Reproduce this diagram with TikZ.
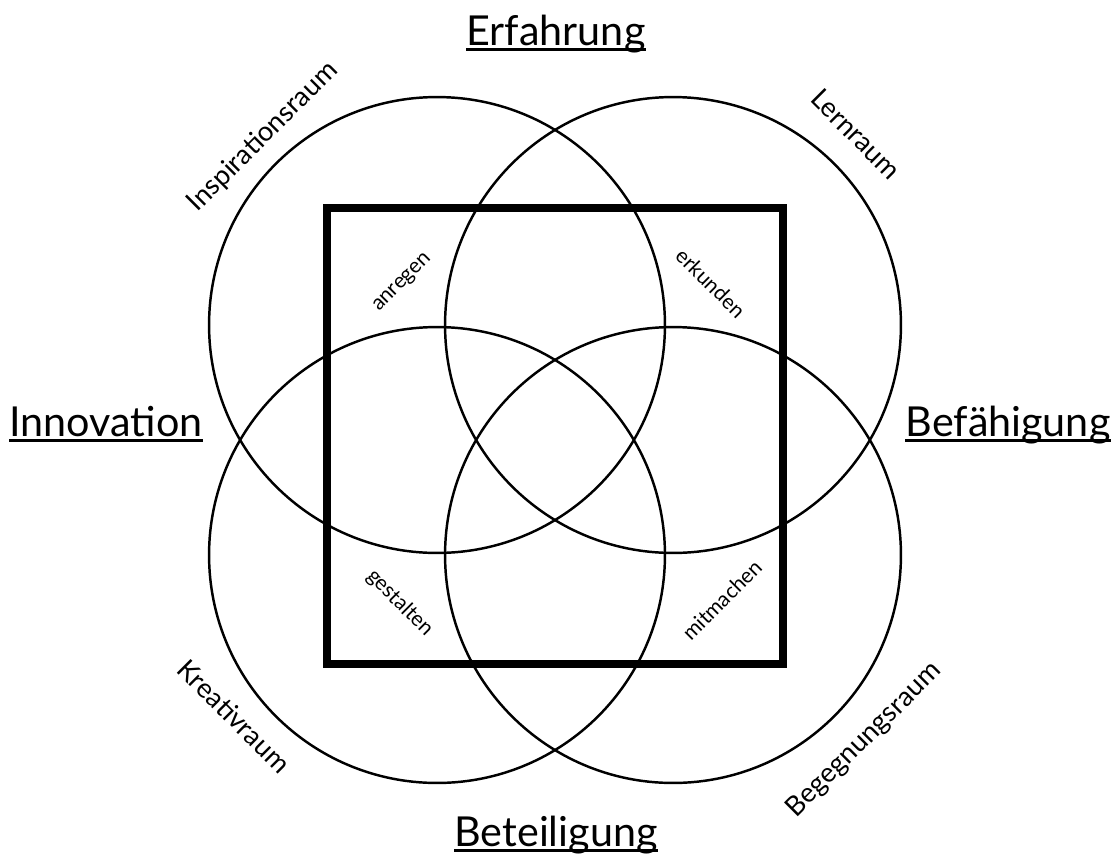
\documentclass[tikz,border=0pt]{standalone}
\usepackage{fontspec}
\setmainfont{Lato}
\begin{document}
\begin{tikzpicture}[x=0.02cm, y=-0.02cm,
    ring/.style={line width=1.4pt},
    frame/.style={line width=4.4pt},
    pole/.style={font=\fontsize{23.5}{28}\selectfont, anchor=base, inner sep=0pt},
    room/.style={font=\fontsize{15.5}{18}\selectfont, inner sep=0pt},
    verb/.style={font=\fontsize{12}{14}\selectfont, inner sep=0pt},
    uline/.style={line width=1.5pt}]
  \useasboundingbox (0,0) rectangle (1115,863);
  % circle centres, radius 228px
  \coordinate (tl) at (437,325);
  \coordinate (tr) at (673,325);
  \coordinate (bl) at (437,555);
  \coordinate (br) at (673,555);
  \foreach \c in {tl,tr,bl,br}
    \draw[ring] (\c) circle[radius=4.56cm];
  \draw[frame] (327,208) rectangle (783,664);
  % the four poles, underlined
  \node[pole] (erf) at (556,45) {Erfahrung};
  \node[pole] (inn) at (106,436) {Innovation};
  \node[pole] (bef) at (1008,436) {Befähigung};
  \node[pole] (bet) at (556,846) {Beteiligung};
  \foreach \p in {erf,inn,bef,bet}
    \draw[uline] ([yshift=-2.6pt]\p.base west) -- ([yshift=-2.6pt]\p.base east);
  % rooms outside the circles
  \node[room, rotate=45] (insp) at (263,137) {Inspirationsraum};
  \node[room, rotate=-45] (lern) at (856,134) {Lernraum};
  \node[room, rotate=-45] (krea) at (234,716) {Kreativraum};
  \node[room, rotate=45] (begr) at (864,740) {Begegnungsraum};
  % verbs inside the square
  \node[verb, rotate=45] (anr) at (403,283) {anregen};
  \node[verb, rotate=-45] (erk) at (711,283) {erkunden};
  \node[verb, rotate=-45] (ges) at (400,603) {gestalten};
  \node[verb, rotate=45] (mit) at (722,600) {mitmachen};
\end{tikzpicture}
\end{document}
